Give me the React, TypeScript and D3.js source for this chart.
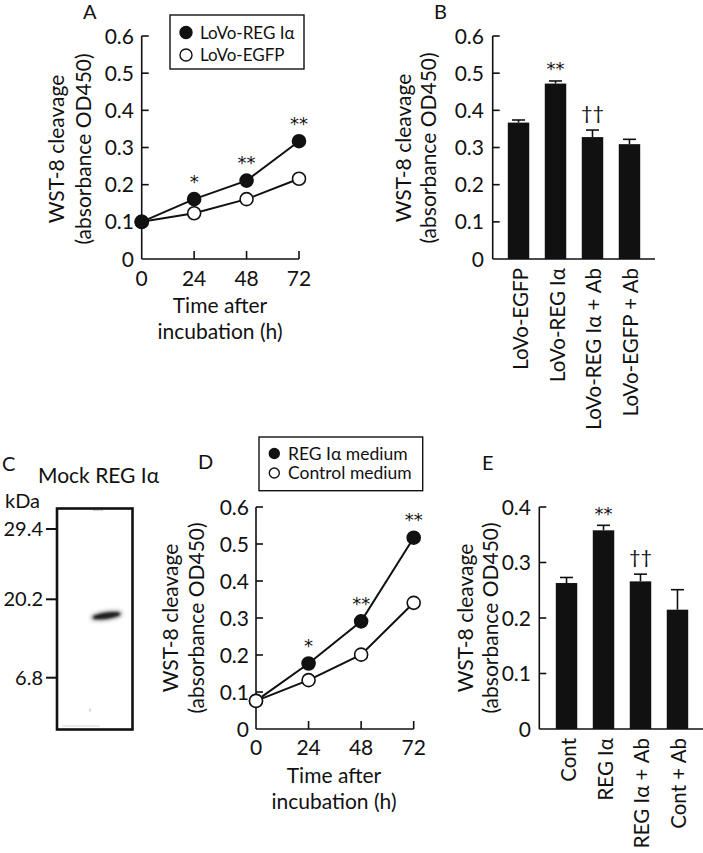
import React from "react";
import * as d3 from "d3";

const FONT = "Lato, 'Open Sans', sans-serif";
const SYM = "'DejaVu Sans', sans-serif";
const INK = "#111";

// ---------- Panel A ----------
const hoursA = [0, 24, 48, 72];
const regA = [0.1, 0.161, 0.211, 0.317];
const egfpA = [0.1, 0.123, 0.161, 0.216];
const sigA = ["", "*", "**", "**"];
const legendA = ["LoVo-REG Iα", "LoVo-EGFP"];

// ---------- Panel B ----------
const catsB = ["LoVo-EGFP", "LoVo-REG Iα", "LoVo-REG Iα + Ab", "LoVo-EGFP + Ab"];
const meanB = [0.367, 0.472, 0.328, 0.309];
const errB = [0.007, 0.007, 0.019, 0.013];
const sigB = ["", "**", "††", ""];

// ---------- Panel C ----------
const lanesC = ["Mock", "REG Iα"];
const markersC = [29.4, 20.2, 6.8];
const bandKDa = 17.4;
const bandLane = "REG Iα";

// ---------- Panel D ----------
const hoursD = [0, 24, 48, 72];
const regD = [0.076, 0.177, 0.291, 0.517];
const ctrlD = [0.076, 0.132, 0.201, 0.341];
const sigD = ["", "*", "**", "**"];
const legendD = ["REG Iα medium", "Control medium"];

// ---------- Panel E ----------
const catsE = ["Cont", "REG Iα", "REG Iα + Ab", "Cont + Ab"];
const meanE = [0.263, 0.358, 0.266, 0.215];
const errE = [0.010, 0.009, 0.013, 0.036];
const sigE = ["", "**", "††", ""];

const ticks06 = [0, 0.1, 0.2, 0.3, 0.4, 0.5, 0.6];
const ticks04 = [0, 0.1, 0.2, 0.3, 0.4];
const hourTicks = [0, 24, 48, 72];

const fmt = (v: number) => (v === 0 ? "0" : d3.format(".1f")(v));

function Sig({ x, cy, s }: any) {
  // cy = visual centre of the symbol
  if (s.includes("*")) {
    return (
      <text x={x} y={cy + 10.5} textAnchor="middle" fontSize={18} fontFamily={SYM} fill={INK}>{s}</text>
    );
  }
  return (
    <text x={x} y={cy + 6} textAnchor="middle" fontSize={20} fontFamily={FONT} fill={INK}>{s}</text>
  );
}

function YAxis({ y, x, ticks, labelRight }: any) {
  const [lo, hi] = d3.extent(ticks) as [number, number];
  return (
    <g>
      <line x1={x} x2={x} y1={y(hi)} y2={y(lo)} stroke={INK} strokeWidth={1.6} />
      {ticks.map((t: number) => (
        <g key={t}>
          {t !== lo && <line x1={x} x2={x + 7} y1={y(t)} y2={y(t)} stroke={INK} strokeWidth={1.6} />}
          <text x={labelRight} y={y(t) + 7.5} textAnchor="end" fontSize={21} fontFamily={FONT} fill={INK}>
            {fmt(t)}
          </text>
        </g>
      ))}
    </g>
  );
}

function YTitle({ x1, x2, cy }: any) {
  return (
    <g fontFamily={FONT} fontSize={21} fill={INK} textAnchor="middle">
      <text transform={`translate(${x1},${cy}) rotate(-90)`}>WST-8 cleavage</text>
      <text transform={`translate(${x2},${cy}) rotate(-90)`}>(absorbance OD450)</text>
    </g>
  );
}

function LinePanel({ x, y, hours, back, front, backFilled, sig, sigSeries, yAxisX, labelRight, xLabelBase, titleBase1, titleBase2, titleX }: any) {
  const line = d3.line<number>().x((_, i) => x(hours[i])).y((d) => y(d));
  const y0 = y(0);
  const drawSeries = (vals: number[], filled: boolean, k: string) => (
    <g key={k}>
      <path d={line(vals) || ""} fill="none" stroke={INK} strokeWidth={2} />
      {vals.map((v, i) => (
        <circle key={i} cx={x(hours[i])} cy={y(v)} r={6.5} fill={filled ? INK : "#fff"} stroke={INK} strokeWidth={1.6} />
      ))}
    </g>
  );
  return (
    <g>
      <YAxis y={y} x={yAxisX} ticks={ticks06} labelRight={labelRight} />
      <line x1={x(0)} x2={x(72)} y1={y0} y2={y0} stroke={INK} strokeWidth={1.6} />
      {hourTicks.map((h) => (
        <g key={h}>
          {h !== 0 && <line x1={x(h)} x2={x(h)} y1={y0} y2={y0 - 8} stroke={INK} strokeWidth={1.6} />}
          <text x={x(h)} y={xLabelBase} textAnchor="middle" fontSize={21} fontFamily={FONT} fill={INK}>{h}</text>
        </g>
      ))}
      {drawSeries(back, backFilled, "b")}
      {drawSeries(front, !backFilled, "f")}
      {sig.map((s: string, i: number) =>
        s ? <Sig key={i} x={x(hours[i])} cy={y(sigSeries[i]) - 22} s={s} /> : null
      )}
      <g fontFamily={FONT} fontSize={21} fill={INK} textAnchor="middle">
        <text x={titleX} y={titleBase1}>Time after</text>
        <text x={titleX} y={titleBase2}>incubation (h)</text>
      </g>
    </g>
  );
}

function BarPanel({ xb, y, cats, mean, err, sig, ticks, yAxisX, axisEnd, labelRight, catTop, catSize }: any) {
  const y0 = y(0);
  const bw = xb.bandwidth();
  return (
    <g>
      <YAxis y={y} x={yAxisX} ticks={ticks} labelRight={labelRight} />
      <line x1={yAxisX} x2={axisEnd} y1={y0} y2={y0} stroke={INK} strokeWidth={1.6} />
      {cats.map((c: string, i: number) => {
        const bx = xb(c);
        const cx = bx + bw / 2;
        const top = y(mean[i]);
        const et = y(mean[i] + err[i]);
        return (
          <g key={c}>
            <line x1={cx} x2={cx} y1={top} y2={et} stroke={INK} strokeWidth={1.6} />
            <line x1={cx - 6.5} x2={cx + 6.5} y1={et} y2={et} stroke={INK} strokeWidth={1.6} />
            <rect x={bx} y={top} width={bw} height={y0 - top} fill={INK} />
            {sig[i] && <Sig x={cx} cy={et - 16} s={sig[i]} />}
            <text transform={`translate(${cx + 9},${catTop}) rotate(-90)`} textAnchor="end" fontSize={catSize} fontFamily={FONT} fill={INK}>{c}</text>
          </g>
        );
      })}
    </g>
  );
}

function Legend({ x, y, w, h, items, cx, r, textX, rowY, fontSize }: any) {
  return (
    <g>
      <rect x={x} y={y} width={w} height={h} fill="#fff" stroke={INK} strokeWidth={1.4} />
      {items.map((t: string, i: number) => (
        <g key={t}>
          <circle cx={cx} cy={rowY[i]} r={r} fill={i === 0 ? INK : "#fff"} stroke={INK} strokeWidth={1.4} />
          <text x={textX} y={rowY[i] + fontSize * 0.36} fontSize={fontSize} fontFamily={FONT} fill={INK}>{t}</text>
        </g>
      ))}
    </g>
  );
}

function PanelLetter({ x, y, t }: any) {
  return <text x={x} y={y} fontSize={20} fontFamily={FONT} fill={INK}>{t}</text>;
}

export default function App() {
  // Panel A scales
  const xA = d3.scaleLinear().domain([0, 72]).range([141.7, 299]);
  const yA = d3.scaleLinear().domain([0, 0.6]).range([259, 36]);
  // Panel B
  const xB = d3.scaleBand().domain(catsB).range([493, 655]).paddingInner(0.42).paddingOuter(0.4);
  const yB = d3.scaleLinear().domain([0, 0.6]).range([259, 36]);
  // Panel C
  const xC = d3.scalePoint().domain(lanesC).range([76, 106.5]);
  const yC = d3.scaleLinear().domain(markersC).range([529, 599.3, 677.7]);
  // Panel D
  const xD = d3.scaleLinear().domain([0, 72]).range([256, 413.7]);
  const yD = d3.scaleLinear().domain([0, 0.6]).range([729, 507]);
  // Panel E
  const xE = d3.scaleBand().domain(catsE).range([541, 703]).paddingInner(0.42).paddingOuter(0.4);
  const yE = d3.scaleLinear().domain([0, 0.4]).range([729, 507]);

  const laneX = xC(bandLane) as number;
  const bandY = yC(bandKDa);

  return (
    <svg width={703} height={853} style={{ position: "absolute", left: 0, top: 0, background: "#fff" }}>
      <defs>
        <filter id="blur" x="-50%" y="-200%" width="200%" height="500%">
          <feGaussianBlur stdDeviation={1.2} />
        </filter>
        <filter id="blur2" x="-50%" y="-200%" width="200%" height="500%">
          <feGaussianBlur stdDeviation={2} />
        </filter>
      </defs>
      <rect x={0} y={0} width={703} height={853} fill="#fff" />

      {/* Panel A */}
      <PanelLetter x={83} y={19} t="A" />
      <YTitle x1={64} x2={90.5} cy={149} />
      <LinePanel x={xA} y={yA} hours={hoursA} back={egfpA} front={regA} backFilled={false}
        sig={sigA} sigSeries={regA} yAxisX={141.7} labelRight={134} xLabelBase={286}
        titleBase1={313} titleBase2={339} titleX={220} />
      <Legend x={170} y={15} w={134} h={54} items={legendA} cx={186} r={6} textX={200}
        rowY={[32.5, 55]} fontSize={17} />

      {/* Panel B */}
      <PanelLetter x={434} y={19} t="B" />
      <YTitle x1={410.5} x2={436} cy={148} />
      <BarPanel xb={xB} y={yB} cats={catsB} mean={meanB} err={errB} sig={sigB} ticks={ticks06}
        yAxisX={492.7} axisEnd={655} labelRight={484} catTop={268} catSize={20.5} />

      {/* Panel C */}
      <PanelLetter x={2} y={471} t="C" />
      <text x={38} y={483} fontSize={21} fontFamily={FONT} fill={INK}>Mock REG Iα</text>
      <text x={5} y={508} fontSize={20} fontFamily={FONT} fill={INK}>kDa</text>
      <rect x={57} y={508.5} width={75.5} height={221} fill="#fff" stroke={INK} strokeWidth={2.6} />
      {markersC.map((m) => (
        <g key={m}>
          <line x1={46} x2={57} y1={yC(m)} y2={yC(m)} stroke={INK} strokeWidth={2} />
          <text x={43} y={yC(m) + 7} textAnchor="end" fontSize={20} fontFamily={FONT} fill={INK}>{m}</text>
        </g>
      ))}
      <g transform={`translate(${laneX},${bandY}) rotate(-8)`}>
        <ellipse cx={0} cy={0} rx={15.5} ry={3.8} fill="#555" filter="url(#blur2)" />
        <ellipse cx={0} cy={0} rx={13.5} ry={2.6} fill="#1a1a1a" filter="url(#blur)" />
      </g>
      <line x1={93} x2={103} y1={510.5} y2={510.5} stroke="#ccc" strokeWidth={1} />
      <ellipse cx={90} cy={710} rx={1.2} ry={2} fill="#ddd" />
      <line x1={62} x2={100} y1={726} y2={726} stroke="#e4e4e4" strokeWidth={1.5} />

      {/* Panel D */}
      <PanelLetter x={198} y={469} t="D" />
      <YTitle x1={177.5} x2={204} cy={618} />
      <LinePanel x={xD} y={yD} hours={hoursD} back={regD} front={ctrlD} backFilled={true}
        sig={sigD} sigSeries={regD} yAxisX={256} labelRight={249} xLabelBase={755}
        titleBase1={783} titleBase2={809} titleX={334} />
      <Legend x={259} y={437} w={163.7} h={53.7} items={legendD} cx={274.3} r={5} textX={288}
        rowY={[453.5, 473]} fontSize={17.5} />

      {/* Panel E */}
      <PanelLetter x={482} y={470} t="E" />
      <YTitle x1={472.5} x2={497.5} cy={618} />
      <BarPanel xb={xE} y={yE} cats={catsE} mean={meanE} err={errE} sig={sigE} ticks={ticks04}
        yAxisX={539.3} axisEnd={703} labelRight={531} catTop={738} catSize={20.5} />
    </svg>
  );
}
